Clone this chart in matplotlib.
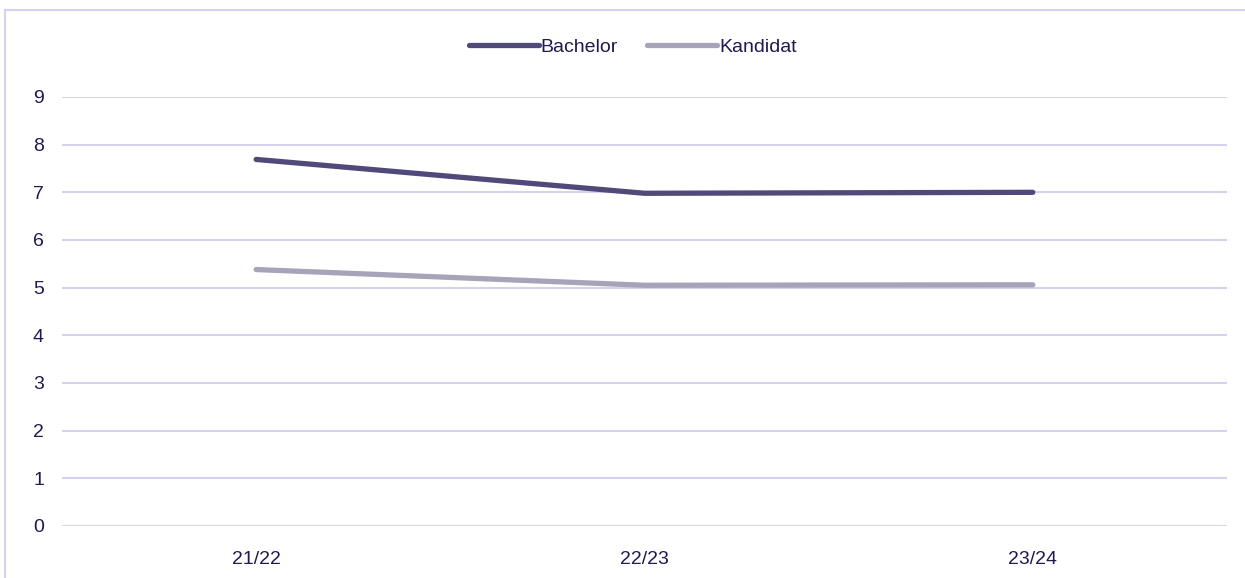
import matplotlib
matplotlib.use('Agg')
import matplotlib.pyplot as plt
from matplotlib.patches import Rectangle

plt.rcParams['font.family'] = ['Liberation Sans', 'DejaVu Sans']

years = ['21/22', '22/23', '23/24']
bachelor = [7.69, 6.98, 7.00]
kandidat = [5.38, 5.05, 5.06]

text_color = '#1f1a4f'
grid_color = '#d6d2ee'

fig = plt.figure(figsize=(12.45, 5.78), dpi=100)
ax = fig.add_axes([0.0498, 0.09, 0.9357, 0.7422])

# light frame around the chart
fig.patches.append(Rectangle((5 / 1245, -0.01), 1.02, 1 - 10 / 578 + 0.01,
                             transform=fig.transFigure, fill=False,
                             edgecolor=grid_color, linewidth=1.5))

x = range(len(years))
ax.plot(x, bachelor, color='#4f4a7a', linewidth=3.8, solid_capstyle='round', label='Bachelor')
ax.plot(x, kandidat, color='#a7a3b9', linewidth=3.8, solid_capstyle='round', label='Kandidat')

ax.set_xlim(-0.5, 2.5)
ax.set_ylim(0, 9)
ax.set_yticks(range(0, 10))
ax.set_xticks(list(x))
ax.set_xticklabels(years)

ax.yaxis.grid(True, color=grid_color, linewidth=1.5)
ax.set_axisbelow(True)
for s in ax.spines.values():
    s.set_visible(False)
ax.tick_params(axis='both', length=0, labelsize=14, labelcolor=text_color)
ax.tick_params(axis='y', pad=13)
ax.tick_params(axis='x', pad=18)

leg = ax.legend(loc='center', bbox_to_anchor=(0.49, 1.117), ncol=2, frameon=False,
                fontsize=14, handlelength=3.6, handletextpad=0.1, columnspacing=1.5)
for t in leg.get_texts():
    t.set_color(text_color)

fig.savefig('out.png', dpi=100)
